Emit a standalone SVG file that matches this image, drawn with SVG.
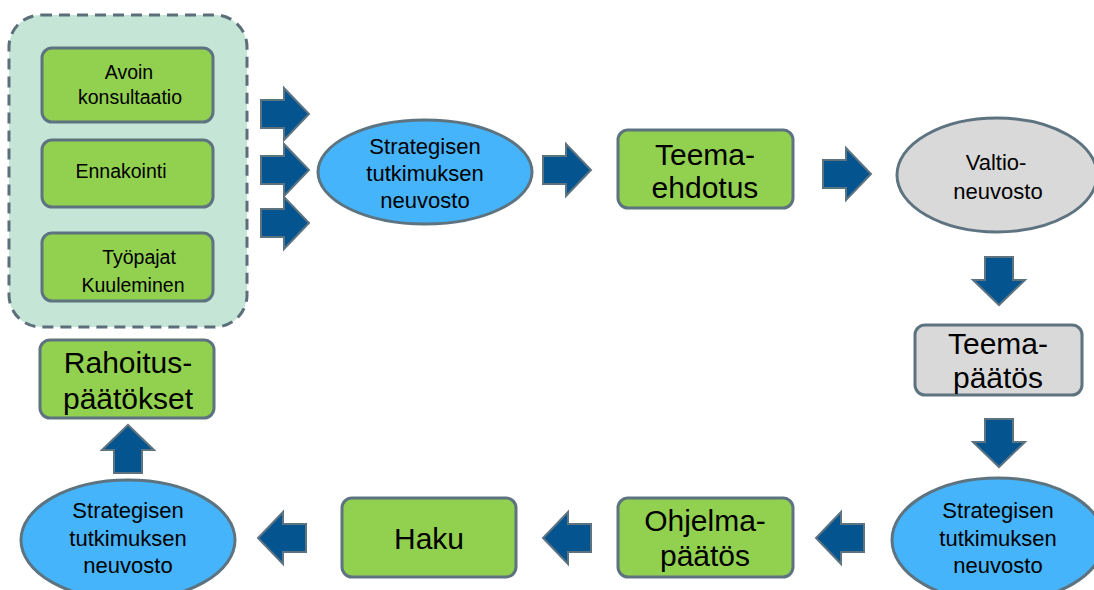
<svg xmlns="http://www.w3.org/2000/svg" xmlns:xlink="http://www.w3.org/1999/xlink" width="1094" height="590" viewBox="0 0 1094 590">
<style>
.g{fill:#92d050;stroke:#5e7380;stroke-width:3}
.gr{fill:#d9d9d9;stroke:#5e7380;stroke-width:3}
.b{fill:#45b4fa;stroke:#5e7380;stroke-width:3}
.ar{fill:#04558f;stroke:#5e7380;stroke-width:2}
text{font-family:"Liberation Sans",Arial,sans-serif;fill:#000;text-anchor:middle}
.s{font-size:19.5px}
.m{font-size:22px}
.l{font-size:30px}
</style>
<defs>
<path id="arr" class="ar" d="M-24,-14 H-1 V-26 L24,0 L-1,26 V14 H-24 Z"/>
</defs>
<g id="container">
<rect x="9" y="15" width="238" height="312" rx="32" fill="#c5e5d6" stroke="#5b6e7a" stroke-width="3" stroke-dasharray="11,7"/>
</g>
<g id="avoin"><rect class="g" x="42" y="48" width="171" height="74" rx="10"/><text class="s" x="129" y="79">Avoin</text><text class="s" x="130" y="104">konsultaatio</text></g>
<g id="ennakointi"><rect class="g" x="42" y="140" width="171" height="67" rx="10"/><text class="s" x="121" y="178">Ennakointi</text></g>
<g id="tyopajat"><rect class="g" x="42" y="233" width="171" height="68" rx="10"/><text class="s" x="139" y="264">Työpajat</text><text class="s" x="133" y="292">Kuuleminen</text></g>
<g id="stn1"><ellipse class="b" cx="425" cy="172" rx="107" ry="52"/><text class="m" x="425" y="154">Strategisen</text><text class="m" x="425" y="181">tutkimuksen</text><text class="m" x="425" y="208">neuvosto</text></g>
<g id="teemaehdotus"><rect class="g" x="618" y="130" width="175" height="78" rx="10"/><text class="l" x="705" y="165">Teema-</text><text class="l" x="705" y="198">ehdotus</text></g>
<g id="valtioneuvosto"><ellipse class="gr" cx="997" cy="175" rx="100" ry="57"/><text class="m" x="996" y="170">Valtio-</text><text class="m" x="998" y="199">neuvosto</text></g>
<g id="teemapaatos"><rect class="gr" x="915" y="325" width="167" height="70" rx="10"/><text class="l" x="998" y="354">Teema-</text><text class="l" x="998" y="388">päätös</text></g>
<g id="stn2"><ellipse class="b" cx="998" cy="540" rx="106" ry="62"/><text class="m" x="998" y="518">Strategisen</text><text class="m" x="998" y="546">tutkimuksen</text><text class="m" x="998" y="573">neuvosto</text></g>
<g id="ohjelmapaatos"><rect class="g" x="618" y="498" width="175" height="79" rx="10"/><text class="l" x="705" y="531">Ohjelma-</text><text class="l" x="705" y="566">päätös</text></g>
<g id="haku"><rect class="g" x="342" y="498" width="174" height="79" rx="10"/><text class="l" x="429" y="549">Haku</text></g>
<g id="stn3"><ellipse class="b" cx="128" cy="540" rx="107" ry="60"/><text class="m" x="128" y="518">Strategisen</text><text class="m" x="128" y="546">tutkimuksen</text><text class="m" x="128" y="573">neuvosto</text></g>
<g id="rahoitus"><rect class="g" x="40" y="340" width="174" height="78" rx="10"/><text class="l" x="128" y="373">Rahoitus-</text><text class="l" x="128" y="409">päätökset</text></g>
<g id="connectors">
<use xlink:href="#arr" transform="translate(285,114)"/>
<use xlink:href="#arr" transform="translate(285,170)"/>
<use xlink:href="#arr" transform="translate(285,223)"/>
<use xlink:href="#arr" transform="translate(567,170)"/>
<use xlink:href="#arr" transform="translate(847,174)"/>
<use xlink:href="#arr" transform="translate(999,281) rotate(90)"/>
<use xlink:href="#arr" transform="translate(999,443) rotate(90)"/>
<use xlink:href="#arr" transform="translate(840,538) rotate(180)"/>
<use xlink:href="#arr" transform="translate(567,538) rotate(180)"/>
<use xlink:href="#arr" transform="translate(282,538) rotate(180)"/>
<use xlink:href="#arr" transform="translate(128,449) rotate(-90)"/>
</g>
</svg>
